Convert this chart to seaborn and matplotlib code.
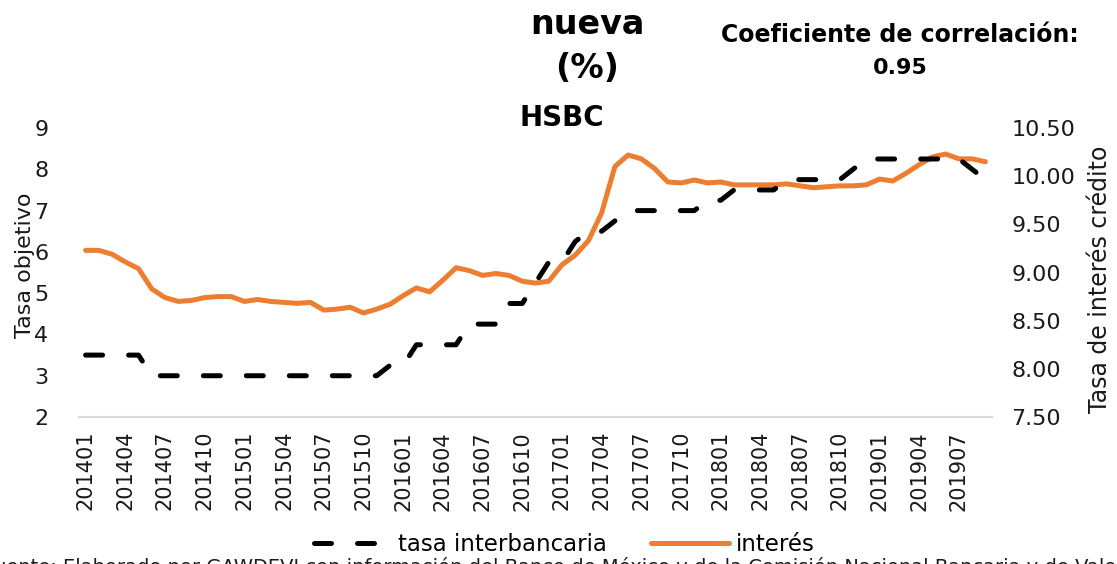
import numpy as np
import pandas as pd
import matplotlib
matplotlib.use('Agg')
import matplotlib.pyplot as plt
import seaborn as sns

# ==========================
# Datos
# ==========================

periodos = [f"{a}{m:02d}" for a in range(2014, 2020) for m in range(1, 13)][:69]

tasa_interbancaria = [
    3.5, 3.5, 3.5, 3.5, 3.5,
    3.0, 3.0, 3.0, 3.0, 3.0, 3.0, 3.0, 3.0, 3.0, 3.0, 3.0, 3.0, 3.0, 3.0, 3.0, 3.0, 3.0, 3.0,
    3.25, 3.25,
    3.75, 3.75, 3.75, 3.75,
    4.25, 4.25, 4.25,
    4.75, 4.75,
    5.25,
    5.75, 5.75,
    6.25,
    6.5, 6.5,
    6.75,
    7.0, 7.0, 7.0, 7.0, 7.0, 7.0,
    7.25, 7.25,
    7.5, 7.5, 7.5, 7.5,
    7.75, 7.75, 7.75, 7.75, 7.75,
    8.0,
    8.25, 8.25, 8.25, 8.25, 8.25, 8.25, 8.25, 8.25,
    8.0,
    7.75,
]

interes = [
    9.23, 9.23, 9.19, 9.11, 9.04, 8.83, 8.74, 8.70, 8.71, 8.74,
    8.75, 8.75, 8.70, 8.72, 8.70, 8.69, 8.68, 8.69, 8.61, 8.62,
    8.64, 8.58, 8.62, 8.67, 8.76, 8.84, 8.80, 8.92, 9.05, 9.02,
    8.97, 8.99, 8.97, 8.91, 8.89, 8.91, 9.08, 9.18, 9.33, 9.62,
    10.10, 10.22, 10.18, 10.08, 9.94, 9.93, 9.96, 9.93, 9.94, 9.91,
    9.91, 9.91, 9.91, 9.92, 9.90, 9.88, 9.89, 9.90, 9.90, 9.91,
    9.97, 9.95, 10.03, 10.12, 10.20, 10.23, 10.18, 10.18, 10.15,
]

etiquetas_x = periodos[::3]
ticks_izq = [2, 3, 4, 5, 6, 7, 8, 9]
ticks_der = [7.5, 8.0, 8.5, 9.0, 9.5, 10.0, 10.5]

df = pd.DataFrame({
    'pos': np.arange(len(periodos)),
    'periodo': periodos,
    'tasa': tasa_interbancaria,
    'interes': interes,
})

# ==========================
# Grafica
# ==========================

sns.set_theme(style='white')
plt.rcParams['font.family'] = ['DejaVu Sans']
plt.rcParams['text.color'] = 'black'

fig = plt.figure(figsize=(11.17, 5.64), dpi=100)
ax = fig.add_axes([0.0707, 0.2606, 0.8174, 0.5124])
ax2 = ax.twinx()

sns.lineplot(data=df, x='pos', y='interes', ax=ax2, color='#ED7D31',
             linewidth=3.6, solid_capstyle='round', solid_joinstyle='round',
             label='interés', legend=False)
sns.lineplot(data=df, x='pos', y='tasa', ax=ax, color='black',
             linewidth=3.6, linestyle=(0, (3.4, 5.2)),
             dash_capstyle='round', dash_joinstyle='round',
             label='tasa interbancaria', legend=False)

# linea negra por encima de la naranja
ax.set_zorder(ax2.get_zorder() + 1)
ax.patch.set_visible(False)

ax.set_xlim(-0.5, len(periodos) - 0.5)
ax.set_ylim(2, 9)
ax2.set_ylim(7.5, 10.5)

ax.set_xticks(df['pos'][::3])
ax.set_xticklabels(etiquetas_x, rotation=90, fontsize=15, color='#1a1a1a')
ax.set_yticks(ticks_izq)
ax.set_yticklabels([str(t) for t in ticks_izq], fontsize=16, color='#1a1a1a')
ax2.set_yticks(ticks_der)
ax2.set_yticklabels([f"{t:.2f}" for t in ticks_der], fontsize=16, color='#1a1a1a')

ax.tick_params(axis='x', length=0, pad=10)
ax.tick_params(axis='y', length=0, pad=22)
ax2.tick_params(axis='y', length=0, pad=14)

ax.set_xlabel('')
ax.set_ylabel('')
ax2.set_ylabel('')

for a in (ax, ax2):
    for s in ('top', 'left', 'right', 'bottom'):
        a.spines[s].set_visible(False)
ax.spines['bottom'].set_visible(True)
ax.spines['bottom'].set_color('#d9d9d9')
ax.spines['bottom'].set_linewidth(1.5)
ax.grid(False)
ax2.grid(False)

fig.text(0.022, 0.53, 'Tasa objetivo', rotation=90, ha='center', va='center',
         fontsize=16, color='#1a1a1a')
fig.text(0.985, 0.505, 'Tasa de interés crédito', rotation=90, ha='center', va='center',
         fontsize=17, color='#1a1a1a')

fig.text(0.526, 0.956, 'nueva', ha='center', va='center', fontsize=24, fontweight='bold')
fig.text(0.526, 0.879, '(%)', ha='center', va='center', fontsize=24, fontweight='bold')
fig.text(0.503, 0.791, 'HSBC', ha='center', va='center', fontsize=20, fontweight='bold')
fig.text(0.806, 0.938, 'Coeficiente de correlación:', ha='center', va='center',
         fontsize=17, fontweight='bold')
fig.text(0.806, 0.879, '0.95', ha='center', va='center', fontsize=16, fontweight='bold')

h1 = ax.get_lines()[0]
h2 = ax2.get_lines()[0]
fig.legend([h1, h2], ['tasa interbancaria', 'interés'], loc='center',
           bbox_to_anchor=(0.505, 0.034), ncol=2, frameon=False, fontsize=16.5,
           handlelength=3.4, handletextpad=0.3, columnspacing=1.9,
           borderpad=0.1)

# nota de fuente, recortada por el borde inferior como en el original
fig.text(-0.014, 0.012, 'Fuente: Elaborado por GAWDEVI con información del Banco de México '
         'y de la Comisión Nacional Bancaria y de Valores.',
         ha='left', va='top', fontsize=14, color='#1a1a1a')

plt.savefig('out.png', dpi=100)
plt.close()
